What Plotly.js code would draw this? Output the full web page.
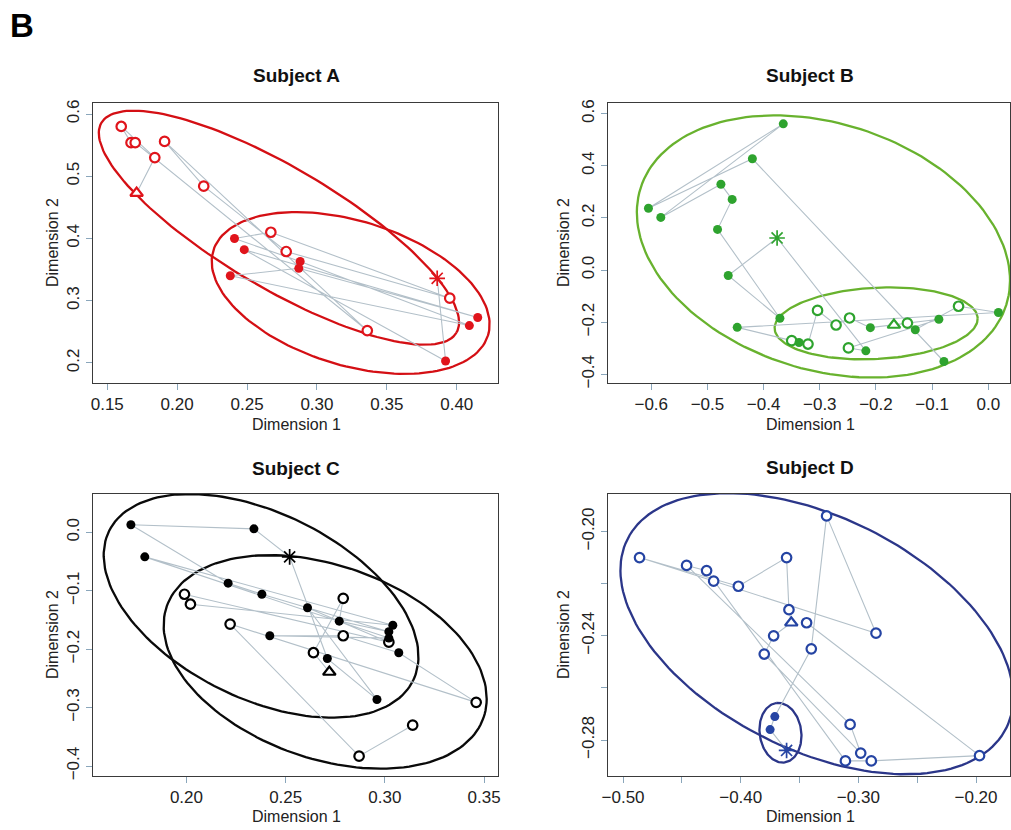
<!DOCTYPE html>
<html><head><meta charset="utf-8">
<script src="https://cdn.plot.ly/plotly-3.0.1.min.js"></script>
<style>html,body{margin:0;padding:0;background:#fff}#chart{width:1011px;height:830px}</style>
</head><body><div id="chart"></div>
<script>
// ---------- DATA ----------
const subjects = ['Subject A', 'Subject B', 'Subject C', 'Subject D'];
// kinds: o = open circle, f = filled circle, t = triangle (start), s = asterisk
// Points in trajectory order
const aX = [0.171,0.184,0.160,0.167,0.170,0.336,0.191,0.219,0.278,0.395,0.267,0.241,0.288,0.409,0.238,0.287,0.415,0.248,0.392,0.386];
const aY = [0.473,0.530,0.580,0.554,0.554,0.252,0.556,0.484,0.379,0.304,0.410,0.400,0.363,0.260,0.340,0.352,0.273,0.382,0.203,0.336];
const aKind = ['t','o','o','o','o','o','o','o','o','o','o','f','f','f','f','f','f','f','f','s'];

const bX = [-0.168,-0.144,-0.130,-0.053,0.018,-0.447,-0.350,-0.337,-0.321,-0.304,-0.271,-0.247,-0.210,-0.088,-0.249,-0.218,-0.376,-0.463,-0.371,-0.482,-0.456,-0.476,-0.583,-0.365,-0.605,-0.420,-0.079];
const bY = [-0.211,-0.204,-0.229,-0.139,-0.163,-0.220,-0.271,-0.278,-0.284,-0.155,-0.211,-0.184,-0.221,-0.189,-0.299,-0.310,0.123,-0.021,-0.185,0.156,0.271,0.329,0.202,0.561,0.237,0.427,-0.351];
const bKind = ['t','o','f','o','f','f','o','f','o','o','o','o','f','f','o','f','s','f','f','f','f','f','f','f','f','f','f'];

const cX = [0.272,0.264,0.279,0.277,0.302,0.238,0.221,0.172,0.234,0.252,0.271,0.296,0.261,0.302,0.199,0.202,0.304,0.179,0.302,0.242,0.279,0.307,0.346,0.222,0.287,0.314];
const cY = [-0.239,-0.206,-0.113,-0.152,-0.170,-0.106,-0.087,0.013,0.006,-0.042,-0.216,-0.286,-0.129,-0.188,-0.106,-0.123,-0.159,-0.042,-0.181,-0.177,-0.177,-0.206,-0.291,-0.157,-0.383,-0.330];
const cKind = ['t','o','o','f','f','f','f','f','f','s','f','f','f','o','o','o','f','f','f','f','o','f','o','o','o','o'];

const dX = [-0.361,-0.375,-0.371,-0.340,-0.327,-0.285,-0.423,-0.486,-0.402,-0.361,-0.359,-0.357,-0.372,-0.380,-0.298,-0.307,-0.446,-0.429,-0.311,-0.289,-0.197,-0.344];
const dY = [-0.284,-0.276,-0.271,-0.245,-0.194,-0.239,-0.219,-0.210,-0.221,-0.210,-0.230,-0.235,-0.240,-0.247,-0.285,-0.274,-0.213,-0.215,-0.288,-0.288,-0.286,-0.235];
const dKind = ['s','f','f','o','o','o','o','o','o','o','o','t','o','o','o','o','o','o','o','o','o','o'];

// Ellipses: [centerX, centerY, axis1X, axis1Y, axis2X, axis2Y] (data units)
const ellA = [[0.2728,0.4173,0.1270,-0.1686,-0.02178,-0.0834],[0.3241,0.3124,0.09825,-0.06815,-0.01512,-0.1108]];
const ellB = [[-0.2935,0.0905,0.3255,-0.2243,-0.0661,-0.4503],[-0.1997,-0.2047,0.1807,0.0205,0.0033,-0.1366]];
const ellC = [[0.2376,-0.1258,0.0766,-0.128,-0.0206,-0.1423],[0.2699,-0.2218,0.0798,-0.0955,-0.0161,-0.1558]];
const ellD = [[-0.3353,-0.2392,0.161,-0.03624,-0.04413,-0.03996],[-0.3662,-0.2772,-0.00355,0.0114,0.01752,0.00111]];

// Tick values / labels
const aXticks = [0.15,0.20,0.25,0.30,0.35,0.40];
const aYticks = [0.2,0.3,0.4,0.5,0.6];
const bXticks = [-0.6,-0.5,-0.4,-0.3,-0.2,-0.1,0.0];
const bYticks = [-0.4,-0.2,0.0,0.2,0.4,0.6];
const cXticks = [0.20,0.25,0.30,0.35];
const cYticks = [-0.4,-0.3,-0.2,-0.1,0.0];
const dXticks = [-0.50,-0.40,-0.30,-0.20];
const dXminor = [-0.50,-0.45,-0.40,-0.35,-0.30,-0.25,-0.20];
const dYticks = [-0.28,-0.24,-0.20];
const dYminor = [-0.28,-0.26,-0.24,-0.22,-0.20];

// ---------- STYLE ----------
const FONT = 'Liberation Sans, Arial, Helvetica, sans-serif';
const panels = [
  {x:aX,y:aY,k:aKind,e:ellA,col:'#e0141b',ecol:'#d40f14',xa:'x',ya:'y'},
  {x:bX,y:bY,k:bKind,e:ellB,col:'#2ea32e',ecol:'#68b22e',xa:'x2',ya:'y2'},
  {x:cX,y:cY,k:cKind,e:ellC,col:'#000000',ecol:'#0a0a0a',xa:'x3',ya:'y3'},
  {x:dX,y:dY,k:dKind,e:ellD,col:'#2544a3',ecol:'#2b3689',xa:'x4',ya:'y4'}
];

function ellipsePts(p){
  const xs=[], ys=[];
  for(let i=0;i<=160;i++){
    const t=2*Math.PI*i/160;
    xs.push(p[0]+Math.cos(t)*p[2]+Math.sin(t)*p[4]);
    ys.push(p[1]+Math.cos(t)*p[3]+Math.sin(t)*p[5]);
  }
  return {xs,ys};
}

const traces=[];
panels.forEach(P=>{
  P.e.forEach(p=>{
    const E=ellipsePts(p);
    traces.push({type:'scatter',mode:'lines',x:E.xs,y:E.ys,xaxis:P.xa,yaxis:P.ya,
      line:{color:P.ecol,width:2.3},hoverinfo:'skip',showlegend:false});
  });
  traces.push({type:'scatter',mode:'lines',x:P.x,y:P.y,xaxis:P.xa,yaxis:P.ya,
    line:{color:'#b3c0c9',width:1.1},hoverinfo:'skip',showlegend:false});
  traces.push({type:'scatter',mode:'markers',x:P.x,y:P.y,xaxis:P.xa,yaxis:P.ya,showlegend:false,opacity:1,
    marker:{
      opacity:1,
      symbol:P.k.map(k=>k==='t'?'triangle-up':k==='s'?'asterisk-open':'circle'),
      size:P.k.map(k=>k==='f'?9:k==='o'?9.5:k==='t'?11:13),
      color:P.k.map(k=>(k==='f'||k==='s')?P.col:'#ffffff'),
      line:{color:P.col,width:P.k.map(k=>k==='f'?0:k==='s'?1.7:2.2)}
    }});
});

const baseAx = {showline:true,mirror:true,linecolor:'#3a3a3a',linewidth:1,ticks:'outside',ticklen:6,
  tickwidth:1,tickcolor:'#8aa6bb',showgrid:false,zeroline:false,fixedrange:true,
  tickfont:{family:FONT,size:17,color:'#222'}};
function ax(o){return Object.assign({},baseAx,o);}

const W=1011,H=830;
const px=v=>v/W, py=v=>1-v/H;

const layout = {
  width:W,height:H,margin:{l:0,r:0,t:0,b:0},paper_bgcolor:'#fff',plot_bgcolor:'#fff',showlegend:false,
  xaxis: ax({domain:[px(93),px(498)],anchor:'y',range:[0.1398,0.4295],tickmode:'array',tickvals:aXticks,tickformat:'.2f'}),
  yaxis: ax({domain:[py(383),py(103)],anchor:'x',range:[0.1677,0.6177],tickmode:'array',tickvals:aYticks,tickformat:'.1f',tickangle:-90}),
  xaxis2: ax({domain:[px(608),px(1010)],anchor:'y2',range:[-0.677,0.0386],tickmode:'array',tickvals:bXticks,tickformat:'.1f'}),
  yaxis2: ax({domain:[py(383),py(103)],anchor:'x2',range:[-0.4335,0.641],tickmode:'array',tickvals:bYticks,tickformat:'.1f',tickangle:-90}),
  xaxis3: ax({domain:[px(93),px(498)],anchor:'y3',range:[0.1529,0.357],tickmode:'array',tickvals:cXticks,tickformat:'.2f'}),
  yaxis3: ax({domain:[py(776),py(494)],anchor:'x3',range:[-0.417,0.0656],tickmode:'array',tickvals:cYticks,tickformat:'.1f',tickangle:-90}),
  xaxis4: ax({domain:[px(608),px(1010)],anchor:'y4',range:[-0.5128,-0.1711],tickmode:'array',tickvals:dXticks,tickformat:'.2f',
    minor:{tickmode:'array',tickvals:dXminor,ticklen:6,tickcolor:'#8aa6bb',ticks:'outside'}}),
  yaxis4: ax({domain:[py(776),py(494)],anchor:'x4',range:[-0.2938,-0.1856],tickmode:'array',tickvals:dYticks,tickformat:'.2f',tickangle:-90,
    minor:{tickmode:'array',tickvals:dYminor,ticklen:6,tickcolor:'#8aa6bb',ticks:'outside'}}),
  annotations:[]
};

const titlePos=[[296,76],[810,76],[296,468],[810,467]];
const xlabPos=[[296,424],[810,424],[296,816],[810,816]];
const ylabPos=[[52,243],[563,243],[52,635],[563,635]];
subjects.forEach((s,i)=>{
  layout.annotations.push({text:s,xref:'paper',yref:'paper',x:px(titlePos[i][0]),y:py(titlePos[i][1]),
    xanchor:'center',yanchor:'middle',showarrow:false,font:{family:FONT,size:19,color:'#111',weight:'bold'}});
  layout.annotations.push({text:'Dimension 1',xref:'paper',yref:'paper',x:px(xlabPos[i][0]),y:py(xlabPos[i][1]),
    xanchor:'center',yanchor:'middle',showarrow:false,font:{family:FONT,size:16,color:'#222'}});
  layout.annotations.push({text:'Dimension 2',xref:'paper',yref:'paper',x:px(ylabPos[i][0]),y:py(ylabPos[i][1]),
    xanchor:'center',yanchor:'middle',showarrow:false,textangle:-90,font:{family:FONT,size:16,color:'#222'}});
});
layout.annotations.push({text:'B',xref:'paper',yref:'paper',x:px(8),y:py(25),xanchor:'left',yanchor:'middle',
  showarrow:false,font:{family:FONT,size:33,color:'#000',weight:'bold'}});

Plotly.newPlot('chart',traces,layout,{staticPlot:true,displayModeBar:false});
</script></body></html>
